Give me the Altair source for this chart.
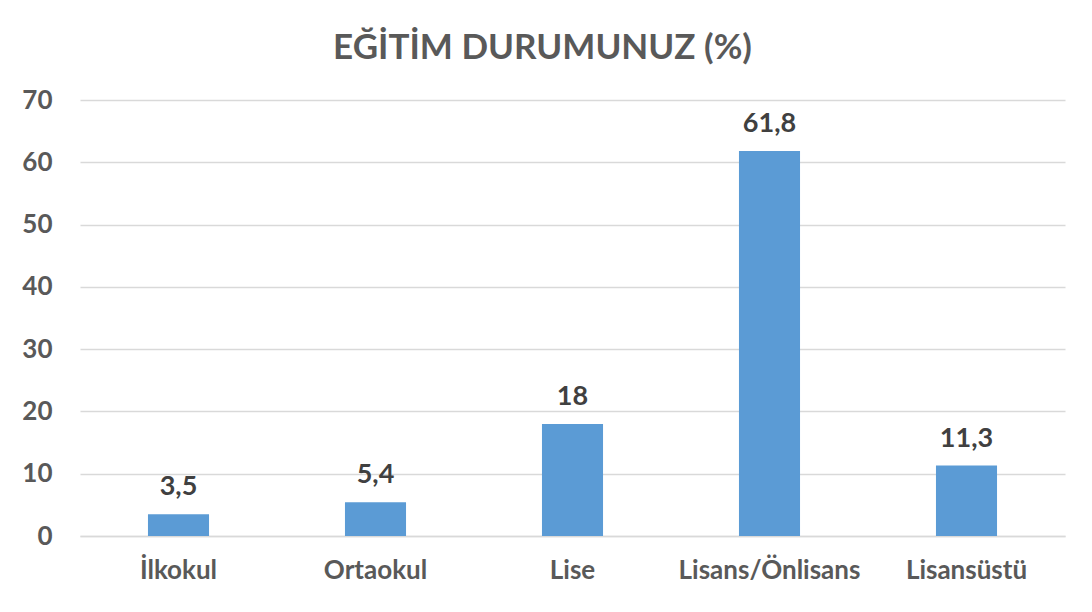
import altair as alt
import pandas as pd

categories = ["İlkokul", "Ortaokul", "Lise", "Lisans/Önlisans", "Lisansüstü"]
values = [3.5, 5.4, 18, 61.8, 11.3]
labels = [f"{v:g}".replace(".", ",") for v in values]

df = pd.DataFrame({"cat": categories, "val": values, "lab": labels})

FONT = "Lato"

base = alt.Chart(df).encode(
    x=alt.X("cat:N", sort=categories, title=None,
            scale=alt.Scale(paddingInner=0.69, paddingOuter=0.345),
            axis=alt.Axis(labelAngle=0, labelFont=FONT, labelFontSize=26,
                          labelFontWeight="bold", labelColor="#595959",
                          labelPadding=21, labelLimit=400, ticks=False,
                          domainColor="#D9D9D9", domainWidth=1.5, grid=False)),
    y=alt.Y("val:Q", title=None,
            scale=alt.Scale(domain=[0, 70]),
            axis=alt.Axis(values=[0, 10, 20, 30, 40, 50, 60, 70], labelFont=FONT,
                          labelFontSize=26, labelFontWeight="bold",
                          labelColor="#595959", labelPadding=28, ticks=False,
                          domain=False, gridColor="#D9D9D9", gridWidth=1.5)),
)

bars = base.mark_bar(color="#5B9BD5")
text = base.mark_text(baseline="alphabetic", dy=-19, font=FONT, fontSize=27,
                      fontWeight="bold", color="#404040").encode(text="lab:N")

chart = (bars + text).properties(
    width=985, height=436,
    title=alt.TitleParams("EĞİTİM DURUMUNUZ (%)", font=FONT, fontSize=35,
                          fontWeight="bold", color="#595959", anchor="middle",
                          dx=-30, offset=21),
    autosize=alt.AutoSizeParams(type="none"),
    padding={"left": 72, "top": 92, "right": 19, "bottom": 68},
).configure(background="white", view=alt.ViewConfig(stroke=None))

chart.save("out.html", embed_options={"renderer": "svg", "actions": False})
